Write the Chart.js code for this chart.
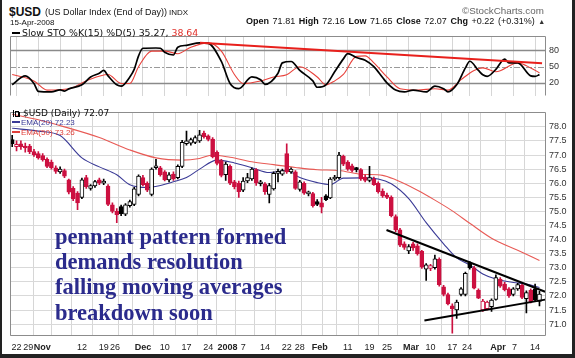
<!DOCTYPE html>
<html><head><meta charset="utf-8">
<script src="https://cdn.jsdelivr.net/npm/chart.js@4.4.1/dist/chart.umd.min.js"></script>
<style>
html,body{margin:0;padding:0;background:#fff;}
#wrap{position:relative;width:575px;height:358px;overflow:hidden;background:#fff;font-family:"Liberation Sans",Arial,sans-serif;color:#111;}
.t{position:absolute;white-space:nowrap;line-height:1;}
canvas{position:absolute;left:0;}
#sto{top:28px;width:575px;height:76px;}
#price{top:104px;width:575px;height:254px;}
.ann{position:absolute;left:55px;font-family:"Liberation Serif","Times New Roman",serif;font-weight:bold;font-size:22.5px;line-height:1;color:#2b2b8c;white-space:nowrap;}
.dv{font-family:"DejaVu Sans",Verdana,sans-serif;}
#border{position:absolute;left:0;top:0;width:575px;height:358px;box-sizing:border-box;border-left:2px solid #222;border-right:3px solid #222;border-bottom:4px solid #222;pointer-events:none;}
</style></head><body><div id="wrap">
<canvas id="sto" width="575" height="76"></canvas>
<canvas id="price" width="575" height="254"></canvas>

<div class="t" style="left:9px;top:5.5px;font-size:12px;font-weight:bold;">$USD</div>
<div class="t" style="left:45px;top:8.4px;font-size:9px;">(US Dollar Index (End of Day))</div>
<div class="t" style="left:169px;top:9.3px;font-size:8px;">INDX</div>
<div class="t" style="left:10px;top:18.8px;font-size:8px;">15-Apr-2008</div>
<div class="t" style="left:246px;top:17.4px;font-size:9px;word-spacing:1.1px;"><b>Open</b> 71.81 <b>High</b> 72.16 <b>Low</b> 71.65 <b>Close</b> 72.07 <b>Chg</b> +0.22 (+0.31%) <span style="font-size:7px;color:#333">&#9650;</span></div>
<div class="t" style="left:462px;top:6px;font-size:9.8px;color:#666;">&copy;StockCharts.com</div>

<div style="position:absolute;left:12px;top:31.5px;width:8px;height:2px;background:#000;"></div>
<div class="t dv" style="left:22px;top:28px;font-size:9.4px;">Slow STO %K(15) %D(5) 35.27, <span style="color:#e0302a">38.64</span></div>

<div style="position:absolute;left:13px;top:110px;width:1px;height:7px;background:#000;"></div>
<div style="position:absolute;left:15px;top:111px;width:2px;height:4px;border:1px solid #000;"></div>
<div style="position:absolute;left:19px;top:112px;width:1px;height:5px;background:#000;"></div>
<div class="t dv" style="left:23px;top:109.4px;font-size:9px;">$USD (Daily) 72.07</div>
<div style="position:absolute;left:12px;top:121px;width:8px;height:2px;background:#3a3a96;"></div>
<div class="t" style="left:21px;top:118.7px;font-size:8px;color:#3a3a96;">EMA(20) 72.23</div>
<div style="position:absolute;left:12px;top:131px;width:8px;height:2px;background:#e0403a;"></div>
<div class="t" style="left:21px;top:128.5px;font-size:8px;color:#e0403a;">EMA(50) 73.26</div>

<div class="ann" style="top:226.2px;">pennant pattern formed</div>
<div class="ann" style="top:251.2px;">demands resolution</div>
<div class="ann" style="top:276.2px;">falling moving averages</div>
<div class="ann" style="top:302.2px;">breakdown soon</div>
<div id="border"></div>
</div>
<script>
// ---------- data ----------
const dates = ['Oct 19','Oct 22','Oct 23','Oct 24','Oct 25','Oct 26','Oct 29','Oct 30','Oct 31',
'Nov 1','Nov 2','Nov 5','Nov 6','Nov 7','Nov 8','Nov 9','Nov 12','Nov 13','Nov 14','Nov 15','Nov 16','Nov 19','Nov 20','Nov 21','Nov 23','Nov 26','Nov 27','Nov 28','Nov 29','Nov 30',
'Dec 3','Dec 4','Dec 5','Dec 6','Dec 7','Dec 10','Dec 11','Dec 12','Dec 13','Dec 14','Dec 17','Dec 18','Dec 19','Dec 20','Dec 21','Dec 24','Dec 26','Dec 27','Dec 28','Dec 31',
'Jan 2','Jan 3','Jan 4','Jan 7','Jan 8','Jan 9','Jan 10','Jan 11','Jan 14','Jan 15','Jan 16','Jan 17','Jan 18','Jan 22','Jan 23','Jan 24','Jan 25','Jan 28','Jan 29','Jan 30','Jan 31',
'Feb 1','Feb 4','Feb 5','Feb 6','Feb 7','Feb 8','Feb 11','Feb 12','Feb 13','Feb 14','Feb 15','Feb 19','Feb 20','Feb 21','Feb 22','Feb 25','Feb 26','Feb 27','Feb 28','Feb 29',
'Mar 3','Mar 4','Mar 5','Mar 6','Mar 7','Mar 10','Mar 11','Mar 12','Mar 13','Mar 14','Mar 17','Mar 18','Mar 19','Mar 20','Mar 24','Mar 25','Mar 26','Mar 27','Mar 28','Mar 31',
'Apr 1','Apr 2','Apr 3','Apr 4','Apr 7','Apr 8','Apr 9','Apr 10','Apr 11','Apr 14','Apr 15'];

const open = [77.55,77.3,77.4,77.3,77.32,77.12,77.05,76.98,76.85,76.75,
76.55,76.4,76.45,76.12,75.82,75.65,75.5,76.2,75.82,75.9,
76.12,76.0,75.9,75.23,75.0,75.17,74.9,75.2,75.25,75.6,
76.2,76.0,75.6,76.55,76.55,76.4,76.12,76.32,76.2,76.6,
77.4,77.42,77.45,77.5,77.78,77.68,77.57,77.1,76.8,76.3,
76.6,76.05,76.0,75.75,76.08,76.15,76.48,75.98,75.98,75.6,
75.8,76.35,76.32,77.05,76.4,76.4,75.78,76.0,75.62,75.63,
75.35,75.3,75.55,75.48,76.15,76.2,76.95,76.75,76.62,76.52,
76.48,76.22,76.1,76.15,76.0,75.72,75.58,75.5,74.82,74.35,
73.85,73.6,73.85,73.78,73.58,72.95,72.98,73.0,73.3,72.32,
72.05,71.65,71.5,72.05,72.05,73.18,73.0,72.2,71.5,71.55,
71.62,71.88,72.6,72.42,72.25,72.05,72.25,72.38,71.9,72.2,
72.25,71.81];
const high = [77.7,77.5,77.5,77.42,77.38,77.2,77.12,77.05,76.9,76.82,
76.62,76.58,76.5,76.15,75.88,75.7,76.18,76.28,75.95,76.1,
76.18,76.15,75.95,75.3,75.1,75.22,75.28,75.4,75.85,76.3,
76.28,76.05,76.55,76.85,76.6,76.45,76.38,76.4,76.65,77.52,
77.85,77.6,77.68,77.88,77.85,77.72,77.62,77.15,76.85,76.75,
76.65,76.1,76.08,76.2,76.35,76.55,76.52,76.1,76.02,76.0,
76.4,76.5,76.5,77.4,76.55,76.45,76.1,76.05,75.72,75.68,
75.42,75.5,75.6,76.2,76.28,77.1,77.0,76.8,76.68,76.56,
76.52,76.3,76.6,76.22,76.05,75.8,75.65,75.55,74.88,74.4,
73.92,73.82,73.9,73.85,73.62,73.15,73.12,73.45,73.35,72.38,
72.1,71.72,71.85,72.3,72.85,73.22,73.05,72.25,71.88,71.82,
71.9,72.75,72.65,72.48,72.3,72.3,72.45,72.42,72.18,72.25,
72.42,72.16];
const low = [77.3,77.15,77.2,77.1,77.05,76.95,76.85,76.78,76.55,76.5,
76.35,76.35,76.2,75.62,75.38,75.06,75.45,75.82,75.75,75.85,
75.95,75.95,75.2,74.95,74.6,74.85,74.85,75.15,75.2,75.55,
75.9,75.7,75.55,76.5,76.25,76.08,76.05,76.1,76.15,76.55,
77.35,77.35,77.4,77.45,77.6,77.5,76.9,76.65,76.22,76.1,
75.95,75.8,75.5,75.7,76.02,76.1,75.92,75.9,75.6,75.3,
75.75,76.05,76.28,76.35,76.35,75.78,75.72,75.6,75.55,75.15,
75.2,74.95,75.38,75.45,76.1,76.15,76.62,76.45,76.4,76.4,
76.1,76.05,76.05,75.92,75.65,75.5,75.45,74.8,74.28,73.75,
73.65,73.5,73.62,73.45,72.98,72.55,72.9,72.95,72.35,72.0,
71.68,70.68,71.2,72.0,72.0,72.95,72.25,71.9,71.45,71.5,
71.45,71.85,72.3,72.18,71.95,72.0,72.2,71.9,71.4,71.75,
71.8,71.65];
const close = [77.4,77.38,77.3,77.25,77.12,77.0,76.9,76.84,76.6,76.55,
76.42,76.5,76.25,75.68,75.45,75.3,76.12,75.88,75.92,76.06,
76.0,76.08,75.25,75.0,74.88,74.92,75.23,75.35,75.8,76.25,
75.95,75.75,76.5,76.62,76.3,76.12,76.3,76.15,76.6,77.45,
77.5,77.55,77.62,77.72,77.65,77.55,76.94,76.7,76.28,76.68,
76.0,75.88,75.7,76.08,76.2,76.5,76.0,76.05,75.7,75.92,
76.35,76.4,76.45,76.4,76.5,75.82,76.05,75.65,75.68,75.2,
75.25,75.15,75.42,76.15,76.22,77.0,76.68,76.5,76.45,76.48,
76.15,76.1,76.2,75.95,75.7,75.55,75.5,74.85,74.35,73.8,
73.72,73.75,73.7,73.5,73.02,73.1,73.08,73.32,72.4,72.05,
71.72,71.55,71.78,72.25,72.8,73.0,72.28,71.92,71.82,71.78,
71.85,72.65,72.35,72.22,72.0,72.25,72.4,71.95,72.12,71.8,
71.85,72.07];

// moving averages (day index -> value)
const ema20Idx = [0,6,11,16,20,24,27,31,34,37,40,43,47,51,55,59,63,66,70,73,76,80,84,87,91,95,99,102,105,108,111,115,118,121];
const ema20Val = [77.95,77.85,77.69,76.9,76.58,76.3,75.95,75.85,75.92,76.05,76.2,76.5,76.82,76.72,76.55,76.38,76.45,76.2,76.02,75.95,76.18,76.19,76.15,75.98,75.45,74.6,73.85,73.35,73.1,72.78,72.6,72.48,72.42,72.3];
const ema50Idx = [0,6,12,20,27,33,39,43,46,50,55,60,65,70,75,80,85,88,93,97,101,105,110,116,121];
const ema50Val = [78.45,78.25,78.0,77.62,77.18,76.9,76.82,76.88,77.0,76.92,76.76,76.66,76.56,76.48,76.45,76.32,76.28,76.12,75.75,75.4,75.02,74.58,74.05,73.62,73.26];

// slow stochastic
const stoKIdx = [0,3,5,6,9,11,12,13,16,18,20,21,22,24,25,27,28,29,30,33,34,35,37,38,40,43,45,48,50,52,55,57,58,61,62,64,66,69,70,72,74,76,77,79,81,83,85,86,88,90,92,95,97,99,100,102,104,105,107,108,109,111,113,114,116,119,120,121];
const stoKVal = [16.5,33,19,4.5,3.5,7,5,9,16.5,31,38,43,33,16.5,14,31,45,70,84,84.5,84,76.5,71.6,86,89.4,94,93,59.6,19,9.3,31,26,17.5,38,57,59.6,43,23.7,12,16.5,40.5,64.4,74,66.8,62,50,30,20,6.8,3.5,6.8,3.5,14,9.3,3.5,16.5,47.7,60,43,35,32,45,64,57,57,33,32,35.27];
const stoDIdx = [0,5,8,13,17,22,25,27,29,32,35,38,41,45,48,51,53,57,60,63,66,70,72,74,76,79,81,83,86,89,93,97,100,103,106,108,111,115,116,119,121];
const stoDVal = [35.6,23.7,6.8,9.3,23.7,35.6,19,19,50,78.8,78.8,74,86,94,78.8,35.6,19,23.7,31,35,50,31,16.5,23.7,35.6,69,70,57,31,9.3,6.8,9.3,6.8,26,43,47.7,40.5,55,57,47.7,38.64];

// hand-drawn trend lines (day index, value)
const stoTrendIdx = [43.1,121.6], stoTrendVal = [94.2,56.5];
const upperIdx = [85.9,122.3], upperVal = [74.34,72.15];
const lowerIdx = [94.6,122.3], lowerVal = [71.13,71.87];

// axes
const priceTicks = [71,71.5,72,72.5,73,73.5,74,74.5,75,75.5,76,76.5,77,77.5,78];
const stoTicks = [20,50,80];
const weekIdx = [1,6,11,16,21,25,30,35,40,45,49,53,58,63,67,72,77,82,86,91,96,101,105,110,115,120];
const xLabelText = ['22','29','Nov','12','19','26','Dec','10','17','24','2008','7','14','22','28','Feb','11','19','25','Mar','10','17','24','Apr','7','14'];
const xLabelPos  = [1,3.7,6.9,16,21,23.6,30,35,40,45,49.4,53,58,63,66,70.6,77,82,86,91.5,96,101,104.4,111.5,115.3,120];
const boldLabels = ['Nov','Dec','2008','Feb','Mar','Apr'];

// ---------- chart ----------
const FAM = '"Liberation Sans", Arial, sans-serif';
const xMin = -0.5, xMax = 122.5;
const tickMap = new Map();
weekIdx.forEach(v => tickMap.set(v, {grid: true, label: ''}));
xLabelPos.forEach((v, k) => { const t = tickMap.get(v); if (t) t.label = xLabelText[k]; else tickMap.set(v, {grid: false, label: xLabelText[k]}); });
const xTickVals = [...tickMap.keys()].sort((a, b) => a - b);

function xScale(show) {
  return {
    type: 'linear', min: xMin, max: xMax, offset: false,
    afterBuildTicks: s => { s.ticks = xTickVals.map(v => ({value: v})); },
    grid: { color: c => { const t = tickMap.get(c.tick && c.tick.value); return t && t.grid ? '#d6d6d6' : 'rgba(0,0,0,0)'; }, drawTicks: false, lineWidth: 1 },
    border: { display: false },
    ticks: { display: show, autoSkip: false, maxRotation: 0, minRotation: 0, padding: 6, color: '#222',
      font: c => ({ family: FAM, size: 9, weight: boldLabels.includes((tickMap.get(c.tick && c.tick.value) || {}).label) ? 'bold' : 'normal' }),
      callback: v => (tickMap.get(v) || {}).label || '' },
    afterFit: s => { s.height = show ? 22 : 0; }
  };
}

const framePlugin = { id: 'frame', afterDraw(chart, args, opts) {
  const {ctx, chartArea: a} = chart;
  ctx.save(); ctx.strokeStyle = '#8c8c8c'; ctx.lineWidth = 1; ctx.beginPath();
  const l = Math.round(a.left) + 0.5, r = Math.round(a.right) - 0.5, t = Math.round(a.top) + 0.5, b = Math.round(a.bottom) - 0.5;
  ctx.moveTo(l, b); ctx.lineTo(l, t); ctx.lineTo(r, t); ctx.lineTo(r, b);
  if (opts.bottom) ctx.lineTo(l, b);
  ctx.stroke(); ctx.restore();
}};

const stoRefPlugin = { id: 'stoRef', beforeDatasetsDraw(chart) {
  const {ctx, chartArea: a, scales: {y}} = chart;
  ctx.save();
  stoTicks.forEach(v => {
    const py = Math.round(y.getPixelForValue(v)) + 0.5;
    ctx.setLineDash(v === 50 ? [6, 2, 2, 2] : []);
    ctx.strokeStyle = v === 50 ? '#9a9a9a' : '#8a8a8a';
    ctx.lineWidth = v === 50 ? 1 : 1.6;
    ctx.beginPath(); ctx.moveTo(a.left, py); ctx.lineTo(a.right, py); ctx.stroke();
  });
  ctx.restore();
}};

const pts = (xs, ys) => xs.map((x, k) => ({x, y: ys[k]}));
const common = { responsive: false, animation: false, devicePixelRatio: 1, events: [],
  layout: { padding: { left: 10, right: 0, top: 0, bottom: 0 } } };

// Stochastic panel
new Chart(document.getElementById('sto'), {
  type: 'line',
  data: { datasets: [
    { data: pts(stoTrendIdx, stoTrendVal), borderColor: '#e8201c', borderWidth: 2, pointRadius: 0, order: 1 },
    { data: pts(stoKIdx, stoKVal), borderColor: '#000', borderWidth: 1.7, pointRadius: 0, cubicInterpolationMode: 'monotone', order: 2 },
    { data: pts(stoDIdx, stoDVal), borderColor: '#e8403a', borderWidth: 1.1, pointRadius: 0, cubicInterpolationMode: 'monotone', order: 3 }
  ]},
  options: Object.assign({}, common, {
    plugins: { legend: { display: false }, tooltip: { enabled: false }, frame: { bottom: false } },
    scales: {
      x: xScale(false),
      y: { type: 'linear', position: 'right', min: -3.4, max: 105.9,
        afterBuildTicks: s => { s.ticks = stoTicks.map(v => ({value: v})); },
        grid: { display: false, drawTicks: false }, border: { display: false },
        ticks: { padding: 3, color: '#333', font: { family: FAM, size: 9 } },
        afterFit: s => { s.width = 29; } }
    }
  }),
  plugins: [framePlugin, stoRefPlugin]
});

// Price panel
const candleColor = close.map((c, i) => (i === 0 || c >= close[i - 1]) ? '#000000' : '#cc1040');
const hi = high.map((h, i) => Math.max(h, open[i], close[i]));
const lo = low.map((l, i) => Math.min(l, open[i], close[i]));

new Chart(document.getElementById('price'), {
  type: 'bar',
  data: { datasets: [
    { type: 'line', data: pts(ema50Idx, ema50Val), borderColor: '#e85a55', borderWidth: 1.1, pointRadius: 0, cubicInterpolationMode: 'monotone', order: 9 },
    { type: 'line', data: pts(ema20Idx, ema20Val), borderColor: '#3a3a96', borderWidth: 1.1, pointRadius: 0, cubicInterpolationMode: 'monotone', order: 8 },
    { type: 'bar', grouped: false, data: dates.map((d, i) => ({x: i, y: [lo[i], hi[i]]})),
      backgroundColor: candleColor, barThickness: 1, order: 5 },
    { type: 'bar', grouped: false, data: dates.map((d, i) => ({x: i, y: [Math.min(open[i], close[i]), Math.max(open[i], close[i])]})),
      backgroundColor: close.map((c, i) => c < open[i] ? candleColor[i] : '#ffffff'),
      borderColor: candleColor, borderWidth: 1, borderSkipped: false, barThickness: 4, minBarLength: 2, order: 4 },
    { type: 'line', data: pts(upperIdx, upperVal), borderColor: '#000', borderWidth: 2, pointRadius: 0, order: 1 },
    { type: 'line', data: pts(lowerIdx, lowerVal), borderColor: '#000', borderWidth: 2, pointRadius: 0, order: 1 }
  ]},
  options: Object.assign({}, common, {
    plugins: { legend: { display: false }, tooltip: { enabled: false }, frame: { bottom: true } },
    scales: {
      x: xScale(true),
      y: { type: 'linear', position: 'right', min: 70.579, max: 78.513,
        afterBuildTicks: s => { s.ticks = priceTicks.map(v => ({value: v})); },
        grid: { color: '#d9d9d9', drawTicks: false }, border: { display: false },
        ticks: { padding: 3, color: '#333', font: { family: FAM, size: 9 }, callback: v => Number(v).toFixed(1) },
        afterFit: s => { s.width = 29; } }
    }
  }),
  plugins: [framePlugin]
});
</script>
</body></html>
